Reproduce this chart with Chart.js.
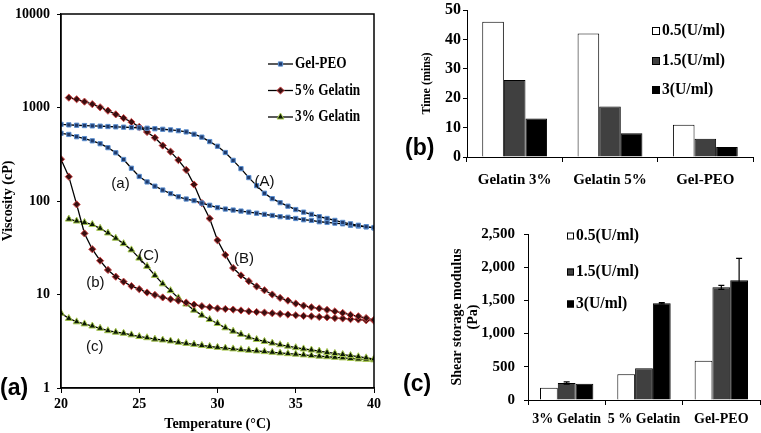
<!DOCTYPE html>
<html>
<head>
<meta charset="utf-8">
<script src="https://cdn.jsdelivr.net/npm/chart.js@4.4.0/dist/chart.umd.min.js"></script>
<style>
  body { margin: 0; background: #fff; }
  #wrap { position: relative; width: 761px; height: 433px; overflow: hidden; background: #fff; }
  canvas { position: absolute; }
  .tag { position: absolute; font: bold 23px "Liberation Sans", Arial, sans-serif; line-height: 23px; color: #000; }
</style>
</head>
<body>
<div id="wrap">
  <canvas id="viscChart" width="385" height="433" style="left:0;top:0"></canvas>
  <canvas id="timeChart" width="376" height="200" style="left:385px;top:0"></canvas>
  <canvas id="modChart" width="376" height="233" style="left:385px;top:200px"></canvas>
  <div class="tag" style="left:0;top:376px">(a)</div>
  <div class="tag" style="left:405px;top:136px">(b)</div>
  <div class="tag" style="left:403px;top:372px">(c)</div>
</div>
<script>
// ---- panel (a): viscosity vs temperature ----
const temps = [20, 20.5, 21, 21.5, 22, 22.5, 23, 23.5, 24, 24.5, 25, 25.5, 26, 26.5, 27, 27.5, 28, 28.5, 29, 29.5,
  30, 30.5, 31, 31.5, 32, 32.5, 33, 33.5, 34, 34.5, 35, 35.5, 36, 36.5, 37, 37.5, 38, 38.5, 39, 39.5, 40];

const gelPeoUpper = [660, 652, 646, 641, 636, 631, 626, 621, 616, 611, 606, 600, 593, 585, 576, 565, 548, 518, 482, 432,
  385, 330, 272, 222, 178, 146, 121, 106, 96, 88, 81, 76, 72, 68, 65, 62, 59, 57, 55, 53, 52];
const gelPeoLower = [530, 515, 487, 465, 440, 410, 372, 328, 278, 224, 183, 160, 144, 131, 120, 111, 105, 101, 95, 90,
  85, 82, 80, 78, 76, 74, 72, 70, 68, 67, 65, 63, 62, 60, 59, 58, 57, 55, 54, 53, 51.5];
const gel5Upper = [null, 1275, 1225, 1155, 1085, 1005, 925, 845, 770, 700, 620, 547, 475, 392, 337, 274, 215, 150, 95, 65,
  38, 26.5, 19.2, 16, 13.9, 12.2, 11.1, 10, 9.2, 8.6, 8.0, 7.6, 7.3, 7.1, 6.85, 6.6, 6.35, 6.05, 5.85, 5.6, 5.35];
const gel5Lower = [280, 182, 92, 45, 30.5, 23, 18.3, 15.5, 13.7, 12.3, 11.4, 10.5, 9.9, 9.3, 8.9, 8.6, 8.2, 7.8, 7.5, 7.3,
  7.1, 7.0, 6.9, 6.75, 6.6, 6.5, 6.4, 6.3, 6.2, 6.1, 6.0, 5.9, 5.85, 5.75, 5.7, 5.6, 5.55, 5.45, 5.4, 5.3, 5.25];
const gel3Upper = [null, 64, 61, 59, 56, 51, 45.5, 40, 35, 30, 24.5, 20, 16, 13, 11, 9.2, 7.9, 6.8, 6.0, 5.4,
  4.9, 4.4, 4.05, 3.75, 3.5, 3.3, 3.15, 3.02, 2.9, 2.8, 2.7, 2.62, 2.55, 2.48, 2.4, 2.34, 2.28, 2.22, 2.16, 2.1, 2.05];
const gel3Lower = [6.3, 5.55, 5.1, 4.85, 4.6, 4.35, 4.1, 3.95, 3.85, 3.7, 3.55, 3.45, 3.33, 3.26, 3.18, 3.08, 3.0, 2.93, 2.85, 2.78,
  2.72, 2.67, 2.62, 2.57, 2.53, 2.49, 2.45, 2.41, 2.37, 2.33, 2.3, 2.26, 2.22, 2.19, 2.16, 2.13, 2.1, 2.07, 2.04, 2.02, 2.0];

const viscTicks = [1, 10, 100, 1000, 10000];
const tempTicks = [20, 25, 30, 35, 40];
const materials = ['Gel-PEO', '5% Gelatin', '3% Gelatin'];
const curveTags = [
  { text: '(A)', t: 33.0, v: 160 },
  { text: '(a)', t: 23.8, v: 152 },
  { text: '(B)', t: 31.7, v: 24 },
  { text: '(C)', t: 25.6, v: 25.8 },
  { text: '(b)', t: 22.2, v: 13.3 },
  { text: '(c)', t: 22.15, v: 2.74 }
];

// ---- panel (b): gelation time ----
const timeGroups = ['Gelatin 3%', 'Gelatin 5%', 'Gel-PEO'];
const time05 = [46, 42, 11];
const time15 = [26.2, 17.2, 6.2];
const time3 = [13.1, 8.1, 3.4];
const timeTicks = [0, 10, 20, 30, 40, 50];

// ---- panel (c): shear storage modulus ----
const modGroups = ['3% Gelatin', '5 % Gelatin', 'Gel-PEO'];
const mod05 = [185, 387, 592];
const mod15 = [256, 477, 1697];
const mod3 = [246, 1456, 1802];
const mod15Err = [16, 0, 30];
const mod3Err = [0, 10, 332];
const modTicks = [0, 500, 1000, 1500, 2000, 2500];

const doses = ['0.5(U/ml)', '1.5(U/ml)', '3(U/ml)'];

const serif = '"Liberation Serif", "Times New Roman", serif';
const sans = '"Liberation Sans", Arial, sans-serif';

const peoMark = { pointStyle: 'rect', radius: 3, fill: '#1f3a6b', edge: '#5b8fd0' };
const gel5Mark = { pointStyle: 'rectRot', radius: 3.6, fill: '#3a0f10', edge: '#d04848' };
const gel3Mark = { pointStyle: 'triangle', radius: 4, fill: '#0c1a06', edge: '#a8c850' };
const marks = [peoMark, gel5Mark, gel3Mark];

function curve(values, m) {
  return {
    data: temps.map((t, i) => ({ x: t, y: values[i] })).filter(p => p.y != null),
    borderColor: '#000',
    borderWidth: 1.3,
    pointStyle: m.pointStyle,
    pointRadius: m.radius,
    pointBackgroundColor: m.fill,
    pointBorderColor: m.edge,
    pointBorderWidth: 1,
    tension: 0,
    fill: false
  };
}

// box around the plot area of (a)
const frame = {
  id: 'frame',
  afterDraw(chart) {
    const { ctx, chartArea: a } = chart;
    ctx.save();
    ctx.strokeStyle = '#000';
    ctx.lineWidth = 1.5;
    ctx.strokeRect(a.left, a.top, a.right - a.left, a.bottom - a.top);
    ctx.restore();
  }
};

// narrow serif text, as in the figure's legends
function condensedText(ctx, text, x, y, squeeze) {
  ctx.save();
  ctx.translate(x, y);
  ctx.scale(squeeze, 1);
  ctx.fillText(text, 0, 0);
  ctx.restore();
}

// line + marker legend inside (a)
const curveLegend = {
  id: 'curveLegend',
  afterDraw(chart, args, opts) {
    const ctx = chart.ctx;
    ctx.save();
    materials.forEach((name, i) => {
      const y = opts.y + i * opts.gap;
      ctx.strokeStyle = '#000';
      ctx.lineWidth = 1.3;
      ctx.beginPath();
      ctx.moveTo(opts.x, y);
      ctx.lineTo(opts.x + opts.len, y);
      ctx.stroke();
      const m = marks[i];
      ctx.fillStyle = m.fill;
      ctx.strokeStyle = m.edge;
      ctx.lineWidth = 1;
      Chart.helpers.drawPoint(ctx, { pointStyle: m.pointStyle, radius: m.radius, borderWidth: 1, rotation: 0 }, opts.x + opts.len / 2, y);
      ctx.fillStyle = '#000';
      ctx.font = 'bold 17px ' + serif;
      ctx.textBaseline = 'middle';
      ctx.textAlign = 'left';
      condensedText(ctx, name, opts.x + opts.len + 2, y, 0.78);
    });
    ctx.restore();
  }
};

// (A), (a), ... next to the curves
const tagPlugin = {
  id: 'tagPlugin',
  afterDraw(chart) {
    const { ctx, scales } = chart;
    ctx.save();
    ctx.fillStyle = '#111';
    ctx.font = '15px ' + sans;
    ctx.textAlign = 'center';
    ctx.textBaseline = 'middle';
    curveTags.forEach(tg => {
      ctx.fillText(tg.text, scales.x.getPixelForValue(tg.t), scales.y.getPixelForValue(tg.v));
    });
    ctx.restore();
  }
};

// square legend for bar panels
const boxLegend = {
  id: 'boxLegend',
  afterDraw(chart, args, opts) {
    const ctx = chart.ctx;
    ctx.save();
    chart.data.datasets.forEach((ds, i) => {
      const y = opts.ys[i];
      ctx.fillStyle = ds.backgroundColor;
      ctx.fillRect(opts.x, y - opts.size / 2, opts.size, opts.size);
      ctx.strokeStyle = '#000';
      ctx.lineWidth = 1;
      ctx.strokeRect(opts.x + 0.5, y - opts.size / 2 + 0.5, opts.size - 1, opts.size - 1);
      ctx.fillStyle = '#000';
      ctx.font = 'bold 17px ' + serif;
      ctx.textBaseline = 'middle';
      condensedText(ctx, ds.label, opts.x + opts.size + 2, y, 0.92);
    });
    ctx.restore();
  }
};

// error bars on (c)
const errorBars = {
  id: 'errorBars',
  afterDatasetsDraw(chart) {
    const { ctx, scales } = chart;
    ctx.save();
    ctx.strokeStyle = '#000';
    ctx.lineWidth = 1.2;
    chart.data.datasets.forEach((ds, i) => {
      if (!ds.errors) return;
      chart.getDatasetMeta(i).data.forEach((bar, j) => {
        const e = ds.errors[j];
        if (!e) return;
        const v = ds.data[j];
        const yTop = scales.y.getPixelForValue(v + e);
        const yBot = scales.y.getPixelForValue(v - e);
        ctx.beginPath();
        ctx.moveTo(bar.x, yTop); ctx.lineTo(bar.x, yBot);
        ctx.moveTo(bar.x - 3, yTop); ctx.lineTo(bar.x + 3, yTop);
        ctx.moveTo(bar.x - 3, yBot); ctx.lineTo(bar.x + 3, yBot);
        ctx.stroke();
      });
    });
    ctx.restore();
  }
};

const tickFont = size => ({ family: serif, size: size, weight: 'bold', lineHeight: 1 });
const axisGrid = len => ({ drawOnChartArea: false, tickLength: len, color: '#000', lineWidth: 1 });

new Chart(document.getElementById('viscChart'), {
  type: 'line',
  data: {
    datasets: [
      curve(gelPeoUpper, peoMark), curve(gelPeoLower, peoMark),
      curve(gel5Upper, gel5Mark), curve(gel5Lower, gel5Mark),
      curve(gel3Upper, gel3Mark), curve(gel3Lower, gel3Mark)
    ]
  },
  options: {
    responsive: false,
    animation: false,
    layout: { padding: { left: 0, top: 14, right: 7, bottom: 0 } },
    plugins: {
      legend: { display: false },
      tooltip: { enabled: false },
      curveLegend: { x: 268, y: 64, gap: 26.5, len: 25 }
    },
    scales: {
      x: {
        type: 'linear', min: 20, max: 40,
        afterBuildTicks: s => { s.ticks = tempTicks.map(v => ({ value: v })); },
        ticks: { color: '#000', font: tickFont(14), padding: 4, maxRotation: 0 },
        grid: axisGrid(5),
        border: { color: '#000', width: 1.2 },
        title: { display: true, text: 'Temperature (°C)', color: '#000', font: { family: serif, size: 14, weight: 'bold' }, padding: 0 },
        afterFit: s => { s.height = 45; }
      },
      y: {
        type: 'logarithmic', min: 1, max: 10000,
        afterBuildTicks: s => { s.ticks = viscTicks.map(v => ({ value: v })); },
        ticks: { color: '#000', font: tickFont(14), padding: 7, callback: v => String(v) },
        grid: axisGrid(4),
        border: { color: '#000', width: 1.2 },
        title: { display: true, text: 'Viscosity (cP)', color: '#000', font: { family: serif, size: 14, weight: 'bold' }, padding: 0 },
        afterFit: s => { s.width = 61; }
      }
    }
  },
  plugins: [frame, curveLegend, tagPlugin]
});

function barSet(label, values, color, pct) {
  return { label: label, data: values, backgroundColor: color, borderColor: '#000', borderWidth: 1,
    borderSkipped: 'bottom', barPercentage: 1, categoryPercentage: pct };
}

new Chart(document.getElementById('timeChart'), {
  type: 'bar',
  data: {
    labels: timeGroups,
    datasets: [
      barSet(doses[0], time05, '#ffffff', 0.68),
      barSet(doses[1], time15, '#404040', 0.68),
      barSet(doses[2], time3, '#000000', 0.68)
    ]
  },
  options: {
    responsive: false,
    animation: false,
    layout: { padding: { left: 35, top: 7, right: 8, bottom: 0 } },
    plugins: {
      legend: { display: false },
      tooltip: { enabled: false },
      boxLegend: { x: 267, ys: [31, 61, 90], size: 8 }
    },
    scales: {
      x: {
        ticks: { color: '#000', font: tickFont(15), padding: 11, autoSkip: false, maxRotation: 0 },
        grid: Object.assign(axisGrid(5), { offset: true }),
        border: { color: '#000', width: 1 },
        afterFit: s => { s.height = 43; }
      },
      y: {
        min: 0, max: 50,
        afterBuildTicks: s => { s.ticks = timeTicks.map(v => ({ value: v })); },
        ticks: { color: '#000', font: tickFont(16), padding: 2 },
        grid: axisGrid(4),
        border: { color: '#000', width: 1 },
        title: { display: true, text: 'Time (mins)', color: '#000', font: { family: serif, size: 12, weight: 'bold' }, padding: 0 },
        afterFit: s => { s.width = 47; }
      }
    }
  },
  plugins: [boxLegend]
});

const modSets = [
  barSet(doses[0], mod05, '#ffffff', 0.69),
  barSet(doses[1], mod15, '#404040', 0.69),
  barSet(doses[2], mod3, '#000000', 0.69)
];
modSets[1].errors = mod15Err;
modSets[2].errors = mod3Err;

new Chart(document.getElementById('modChart'), {
  type: 'bar',
  data: { labels: modGroups, datasets: modSets },
  options: {
    responsive: false,
    animation: false,
    layout: { padding: { left: 65, top: 34, right: 1, bottom: 0 } },
    plugins: {
      legend: { display: false },
      tooltip: { enabled: false },
      boxLegend: { x: 182, ys: [36, 72, 104], size: 7 }
    },
    scales: {
      x: {
        ticks: { color: '#000', font: tickFont(14), padding: 7, autoSkip: false, maxRotation: 0, minRotation: 0 },
        grid: Object.assign(axisGrid(5), { offset: true }),
        border: { color: '#000', width: 1 },
        afterFit: s => { s.height = 33; }
      },
      y: {
        min: 0, max: 2500,
        afterBuildTicks: s => { s.ticks = modTicks.map(v => ({ value: v })); },
        ticks: { color: '#000', font: tickFont(15), padding: 9, callback: v => v.toLocaleString('en-US') },
        grid: axisGrid(4),
        border: { color: '#000', width: 1 },
        title: { display: true, text: ['Shear storage modulus', '(Pa)'], color: '#000',
          font: { family: serif, size: 14, weight: 'bold', lineHeight: 1.1 }, padding: 0 },
        afterFit: s => { s.width = 78; }
      }
    }
  },
  plugins: [boxLegend, errorBars]
});
</script>
</body>
</html>
